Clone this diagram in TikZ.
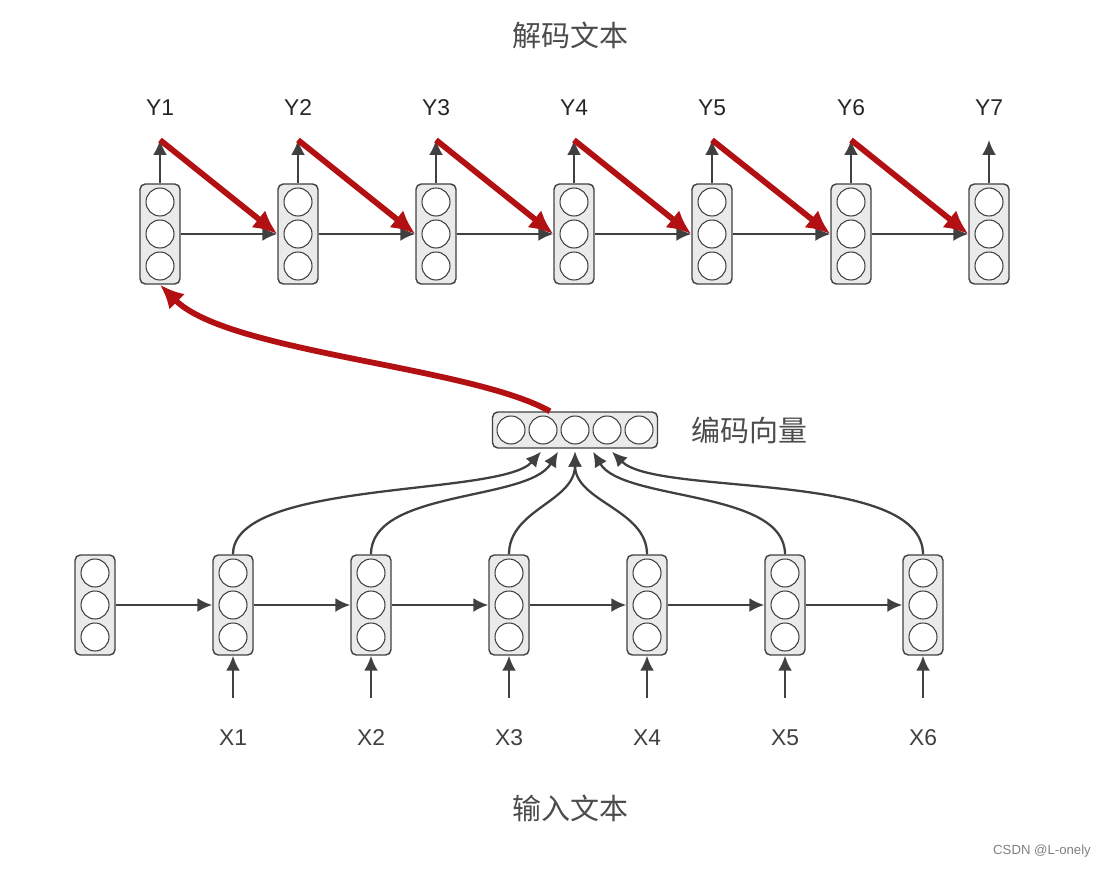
\documentclass[tikz,border=0pt]{standalone}
\usepackage{fontspec}
\setmainfont{Liberation Sans}
\newfontfamily\cjk{Noto Sans CJK SC}
\usetikzlibrary{arrows.meta,calc}
\definecolor{linegray}{RGB}{64,64,64}
\definecolor{cellfill}{RGB}{234,234,234}
\definecolor{decred}{RGB}{178,16,18}
\tikzset{
  cell box/.style={
    draw=linegray,
    fill=cellfill,
    rounded corners=3pt,
    line width=0.8pt,
    minimum width=0.8cm,
    minimum height=2cm,
    inner sep=0pt
  },
  unit/.style={circle,draw=linegray,fill=white,line width=0.6pt,minimum size=0.56cm,inner sep=0pt},
  flow/.style={-{Latex[length=3mm,width=2.8mm]},line width=1.3pt,draw=linegray},
  feed/.style={-{Latex[length=4.8mm,width=4.4mm]},line width=3.3pt,draw=decred},
  seqlabel/.style={text=black!75,font=\fontsize{13}{15}\selectfont},
  title/.style={text=black!70,font=\cjk\fontsize{16.5}{19}\selectfont}
}
\newcommand{\rnncell}[3]{%
  \node[cell box] (#1) at (#2,#3) {};
  \foreach \k/\dy in {a/-32,b/0,c/32} {
    \node[unit] (#1-\k) at ($(#1.center)+(0,\dy)$) {};
  }%
}

\begin{document}
\begin{tikzpicture}[x=0.02cm,y=-0.02cm]
  \useasboundingbox (0,0) rectangle (1111,868);

  % decoder
  \node[title] (dectitle) at (570,35) {解码文本};
  \foreach \i/\x in {1/160,2/298,3/436,4/574,5/712,6/851,7/989} {
    \rnncell{d\i}{\x}{234}
    \node[seqlabel,text=black!85] (y\i) at (\x,108) {Y\i};
    \coordinate (t\i) at (\x,140);
    \draw[flow] (d\i.north) -- (t\i);
  }
  \foreach \i [count=\j from 2] in {1,...,6} {
    \draw[flow] (d\i) -- (d\j);
    \draw[feed] (t\i) -- (d\j.west);
  }

  % encoding vector
  \node[cell box,minimum width=3.3cm,minimum height=0.72cm] (vec) at (575,430) {};
  \foreach \k/\dx in {1/-64,2/-32,3/0,4/32,5/64} {
    \node[unit] (vec-\k) at ($(vec.center)+(\dx,0)$) {};
  }
  \node[title] (veclabel) at (749,430) {编码向量};
  \foreach \k/\dx in {1/-34,2/-17,3/0,4/18,5/37} {
    \coordinate (p\k) at ($(vec.south)+(\dx,3)$);
  }
  \coordinate (vecout) at ($(vec.north)+(-25,0)$);
  \draw[feed] (vecout) .. controls +(-80,-45) and +(68,68) .. (d1.south);

  % encoder
  \foreach \i/\x in {0/95,1/233,2/371,3/509,4/647,5/785,6/923} {
    \rnncell{e\i}{\x}{605}
  }
  \foreach \i [count=\j from 1] in {0,...,5} {
    \draw[flow] (e\i) -- (e\j);
  }
  \foreach \i/\x in {1/233,2/371,3/509,4/647,5/785,6/923} {
    \node[seqlabel] (x\i) at (\x,738) {X\i};
    \coordinate (s\i) at (\x,698);
    \draw[flow] (s\i) -- (e\i.south);
  }
  \draw[flow] (e1.north) .. controls +(0,-75) and +(-40,45) .. (p1);
  \draw[flow] (e2.north) .. controls +(0,-65) and +(-30,50) .. (p2);
  \draw[flow] (e3.north) .. controls +(0,-45) and +(0,50) .. (p3);
  \draw[flow] (e4.north) .. controls +(0,-45) and +(0,50) .. (p3);
  \draw[flow] (e5.north) .. controls +(0,-65) and +(30,50) .. (p4);
  \draw[flow] (e6.north) .. controls +(0,-85) and +(45,45) .. (p5);
  \node[title] (enctitle) at (570,808) {输入文本};

  \node[text=black!50,font=\fontsize{7.5}{9}\selectfont,anchor=east] (mark) at (1097,851) {CSDN @L-onely};
\end{tikzpicture}
\end{document}
